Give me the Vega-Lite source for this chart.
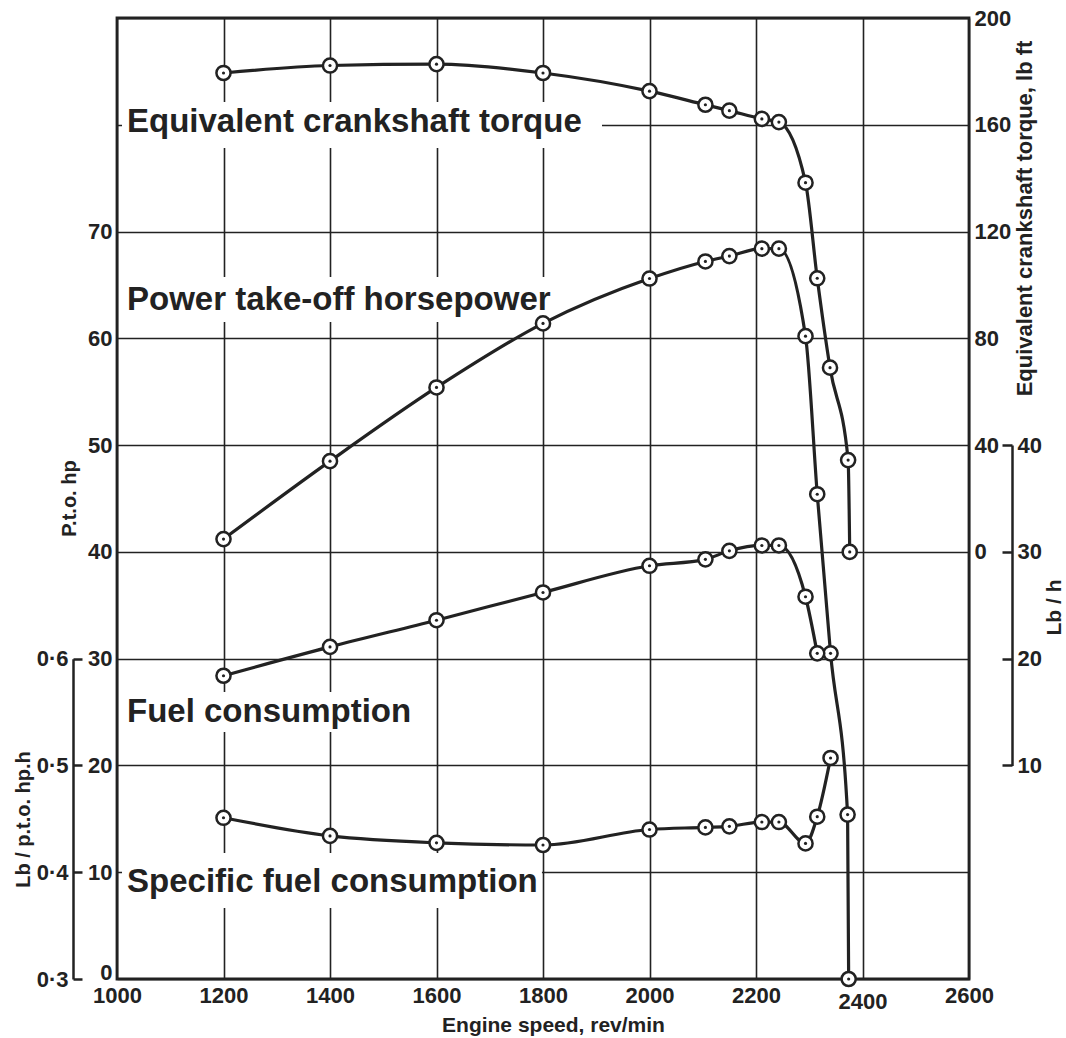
{
  "$schema": "https://vega.github.io/schema/vega-lite/v6.json",
  "width": 852,
  "height": 961,
  "autosize": {"type": "none"},
  "padding": {"left": 117, "top": 18, "right": 97, "bottom": 59},
  "background": "white",
  "config": {
    "view": {"stroke": "#222", "strokeWidth": 2.8},
    "axis": {
      "labelFont": "Liberation Sans",
      "labelFontWeight": "bold",
      "labelFontSize": 22,
      "labelColor": "#222",
      "titleFont": "Liberation Sans",
      "titleFontWeight": "bold",
      "titleColor": "#222",
      "gridColor": "#222",
      "gridWidth": 1.6,
      "gridOpacity": 1,
      "domainColor": "#222",
      "tickColor": "#222",
      "labelFlush": false,
      "labelOverlap": false,
      "labelBound": false
    }
  },
  "datasets": {
    "torque": [
      {"rpm": 1200, "torque": 179.4},
      {"rpm": 1400, "torque": 182.2},
      {"rpm": 1600, "torque": 182.7},
      {"rpm": 1800, "torque": 179.4},
      {"rpm": 2000, "torque": 172.6},
      {"rpm": 2105, "torque": 167.5},
      {"rpm": 2150, "torque": 165.3},
      {"rpm": 2211, "torque": 162.2},
      {"rpm": 2243, "torque": 161.0},
      {"rpm": 2293, "torque": 138.3},
      {"rpm": 2315, "torque": 102.5},
      {"rpm": 2339, "torque": 69.0},
      {"rpm": 2373, "torque": 34.4},
      {"rpm": 2376, "torque": 0}
    ],
    "power": [
      {"rpm": 1200, "hp": 41.2},
      {"rpm": 1400, "hp": 48.5},
      {"rpm": 1600, "hp": 55.4},
      {"rpm": 1800, "hp": 61.4},
      {"rpm": 2000, "hp": 65.6},
      {"rpm": 2105, "hp": 67.2},
      {"rpm": 2150, "hp": 67.7},
      {"rpm": 2211, "hp": 68.4},
      {"rpm": 2243, "hp": 68.4},
      {"rpm": 2293, "hp": 60.2},
      {"rpm": 2315, "hp": 45.4},
      {"rpm": 2340, "hp": 30.5},
      {"rpm": 2372, "hp": 15.4},
      {"rpm": 2374, "hp": 0}
    ],
    "fuel": [
      {"rpm": 1200, "lbh": 18.4},
      {"rpm": 1400, "lbh": 21.1},
      {"rpm": 1600, "lbh": 23.6},
      {"rpm": 1800, "lbh": 26.2},
      {"rpm": 2000, "lbh": 28.7},
      {"rpm": 2105, "lbh": 29.3},
      {"rpm": 2150, "lbh": 30.1},
      {"rpm": 2211, "lbh": 30.6},
      {"rpm": 2243, "lbh": 30.6},
      {"rpm": 2293, "lbh": 25.8},
      {"rpm": 2315, "lbh": 20.5}
    ],
    "sfc": [
      {"rpm": 1200, "sfc": 0.451},
      {"rpm": 1400, "sfc": 0.434},
      {"rpm": 1600, "sfc": 0.4275},
      {"rpm": 1800, "sfc": 0.4255},
      {"rpm": 2000, "sfc": 0.44},
      {"rpm": 2105, "sfc": 0.442},
      {"rpm": 2150, "sfc": 0.443},
      {"rpm": 2211, "sfc": 0.447},
      {"rpm": 2243, "sfc": 0.447},
      {"rpm": 2293, "sfc": 0.427},
      {"rpm": 2315, "sfc": 0.452},
      {"rpm": 2340, "sfc": 0.507}
    ],
    "labels": [
      {"label": "Equivalent crankshaft torque", "rpm": 1009.4, "rpm2": 1910.8, "hp": 79.3, "hp0": 77.82, "hp1": 82.13},
      {"label": "Power take-off horsepower", "rpm": 1009.4, "rpm2": 1832, "hp": 62.65, "hp0": 61.53, "hp1": 65.74},
      {"label": "Fuel consumption", "rpm": 1009.4, "rpm2": 1566, "hp": 24.07, "hp0": 23.13, "hp1": 26.88},
      {"label": "Specific fuel consumption", "rpm": 1009.4, "rpm2": 1798, "hp": 8.15, "hp0": 6.65, "hp1": 11.8}
    ]
  },
  "encoding": {
    "x": {
      "field": "rpm",
      "type": "quantitative",
      "scale": {"domain": [1000, 2600], "nice": false, "zero": false},
      "axis": {
        "values": [1000, 1200, 1400, 1600, 1800, 2000, 2200, 2400, 2600],
        "format": "d",
        "grid": true,
        "domain": false,
        "ticks": false,
        "labelPadding": {"condition": {"test": "datum.value == 2400", "value": 12}, "value": 6},
        "title": "Engine speed, rev/min",
        "titleFontSize": 21,
        "titleX": 436,
        "titleY": 35,
        "titleAlign": "center",
        "titleBaseline": "top"
      }
    }
  },
  "layer": [
    {
      "encoding": {
        "y": {
          "field": "hp",
          "type": "quantitative",
          "scale": {"domain": [0, 90], "nice": false, "zero": false},
          "axis": {
            "values": [0, 10, 20, 30, 40, 50, 60, 70, 80, 90],
            "labelExpr": "datum.value <= 70 ? datum.label : ''",
            "labelOffset": {"condition": {"test": "datum.value == 0", "value": -7}, "value": 0},
            "grid": true,
            "domain": false,
            "ticks": false,
            "labelPadding": 5,
            "title": "P.t.o. hp",
            "titleFontSize": 20,
            "titleAngle": 270,
            "titleX": -48,
            "titleY": 480,
            "titleAlign": "center",
            "titleBaseline": "middle"
          }
        }
      },
      "layer": [
        {
          "data": {"name": "labels"},
          "mark": {"type": "rect", "fill": "white", "strokeWidth": 0},
          "encoding": {
            "x2": {"field": "rpm2"},
            "y": {"field": "hp0", "type": "quantitative", "scale": {"domain": [0, 90], "nice": false, "zero": false}},
            "y2": {"field": "hp1"}
          }
        },
        {
          "data": {"name": "labels"},
          "mark": {"type": "text", "align": "left", "baseline": "alphabetic", "dx": 5, "font": "Liberation Sans", "fontWeight": "bold", "fontSize": 33, "fill": "#222"},
          "encoding": {"text": {"field": "label"}}
        },
        {
          "data": {"name": "power"},
          "mark": {"type": "line", "interpolate": "monotone", "stroke": "#222", "strokeWidth": 3.2}
        },
        {
          "data": {"name": "power"},
          "mark": {"type": "point", "shape": "circle", "filled": true, "fill": "white", "stroke": "#222", "strokeWidth": 2.5, "size": 200, "opacity": 1}
        },
        {
          "data": {"name": "power"},
          "mark": {"type": "point", "shape": "circle", "filled": true, "fill": "#222", "size": 10, "opacity": 1}
        }
      ]
    },
    {
      "data": {"name": "torque"},
      "encoding": {
        "y": {
          "field": "torque",
          "type": "quantitative",
          "scale": {"domain": [-160, 200], "nice": false, "zero": false},
          "axis": {
            "orient": "right",
            "values": [0, 40, 80, 120, 160, 200],
            "grid": false,
            "domain": false,
            "ticks": false,
            "labelPadding": 5,
            "title": "Equivalent crankshaft torque, lb ft",
            "titleFontSize": 22,
            "titleAngle": 270,
            "titleX": 55,
            "titleY": 200,
            "titleAlign": "center",
            "titleBaseline": "middle"
          }
        }
      },
      "layer": [
        {"mark": {"type": "line", "interpolate": "monotone", "stroke": "#222", "strokeWidth": 3.2}},
        {"mark": {"type": "point", "shape": "circle", "filled": true, "fill": "white", "stroke": "#222", "strokeWidth": 2.5, "size": 200, "opacity": 1}},
        {"mark": {"type": "point", "shape": "circle", "filled": true, "fill": "#222", "size": 10, "opacity": 1}}
      ]
    },
    {
      "data": {"name": "fuel"},
      "encoding": {
        "y": {
          "field": "lbh",
          "type": "quantitative",
          "scale": {"domain": [10, 40], "range": [747.44, 427.1], "nice": false, "zero": false},
          "axis": {
            "orient": "right",
            "offset": 43,
            "values": [10, 20, 30, 40],
            "grid": false,
            "domain": true,
            "domainWidth": 2.5,
            "ticks": true,
            "tickSize": -10,
            "tickWidth": 2.5,
            "labelPadding": 15,
            "title": "Lb / h",
            "titleFontSize": 21,
            "titleAngle": 270,
            "titleX": 42,
            "titleY": 589,
            "titleAlign": "center",
            "titleBaseline": "middle"
          }
        }
      },
      "layer": [
        {"mark": {"type": "line", "interpolate": "monotone", "stroke": "#222", "strokeWidth": 3.2}},
        {"mark": {"type": "point", "shape": "circle", "filled": true, "fill": "white", "stroke": "#222", "strokeWidth": 2.5, "size": 200, "opacity": 1}},
        {"mark": {"type": "point", "shape": "circle", "filled": true, "fill": "#222", "size": 10, "opacity": 1}}
      ]
    },
    {
      "data": {"name": "sfc"},
      "encoding": {
        "y": {
          "field": "sfc",
          "type": "quantitative",
          "scale": {"domain": [0.3, 0.6], "range": [961, 640.67], "nice": false, "zero": false},
          "axis": {
            "orient": "left",
            "offset": 44,
            "values": [0.3, 0.4, 0.5, 0.6],
            "labelExpr": "replace(format(datum.value, '.1f'), '.', '·')",
            "grid": false,
            "domain": true,
            "domainWidth": 2.5,
            "ticks": true,
            "tickSize": -9,
            "tickWidth": 2.5,
            "labelPadding": 14,
            "title": "Lb / p.t.o. hp.h",
            "titleFontSize": 20,
            "titleAngle": 270,
            "titleX": -50,
            "titleY": 801,
            "titleAlign": "center",
            "titleBaseline": "middle"
          }
        }
      },
      "layer": [
        {"mark": {"type": "line", "interpolate": "monotone", "stroke": "#222", "strokeWidth": 3.2}},
        {"mark": {"type": "point", "shape": "circle", "filled": true, "fill": "white", "stroke": "#222", "strokeWidth": 2.5, "size": 200, "opacity": 1}},
        {"mark": {"type": "point", "shape": "circle", "filled": true, "fill": "#222", "size": 10, "opacity": 1}}
      ]
    }
  ],
  "resolve": {"scale": {"y": "independent"}}
}
